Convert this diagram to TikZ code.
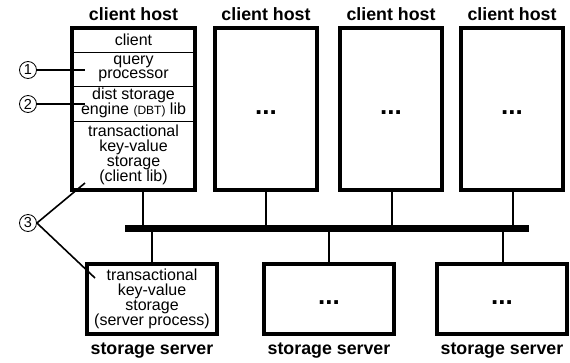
\documentclass[tikz,border=0pt]{standalone}
\usepackage{fontspec}
\setmainfont{Liberation Sans}
\begin{document}
\begin{tikzpicture}[x=1pt,y=-1pt,
  host/.style={draw,line width=3.5pt,minimum width=102pt,minimum height=162pt,inner sep=0pt},
  server/.style={draw,line width=3.5pt,minimum width=130pt,minimum height=70pt,inner sep=0pt},
  title/.style={font=\bfseries\fontsize{17.8}{20}\selectfont,inner sep=0pt},
  dots/.style={font=\bfseries\fontsize{26}{26}\selectfont,inner sep=0pt},
  layer/.style={font=\fontsize{16}{15}\selectfont,align=center,inner sep=0pt},
  num/.style={draw,circle,line width=0.8pt,minimum size=17pt,inner sep=0pt,font=\fontsize{14.5}{14.5}\selectfont},
  divider/.style={line width=0.8pt},
  link/.style={line width=1.5pt},
  bus/.style={line width=7pt},
  pointer/.style={line width=1.6pt}]
\useasboundingbox[fill=white] (0,0) rectangle (570,362);

% client hosts
\node[host,minimum width=123pt] (h1) at (133.5,109) {};
\node[host] (h2) at (266,109) {};
\node[host] (h3) at (391,109) {};
\node[host] (h4) at (512,109) {};
\foreach \n/\x in {h1/133.5,h2/266,h3/391,h4/512}
  \node[title] (t\n) at (\x,14) {client host};
\foreach \n in {h2,h3,h4}
  \node[dots] (d\n) at ([yshift=-4pt]\n.center) {...};

% layers of the first client host
\draw[divider] (h1.west |- 0,52) -- (h1.east |- 0,52);
\draw[divider] (h1.west |- 0,86) -- (h1.east |- 0,86);
\draw[divider] (h1.west |- 0,121) -- (h1.east |- 0,121);
\node[layer] (lclient) at (133.5,40) {client};
\node[layer,font=\fontsize{16}{14}\selectfont] (lqp) at (133.5,68.5) {query\\processor};
\node[layer] (ldbt) at (133.5,103) {dist storage\\engine {\fontsize{12}{12}\selectfont(DBT)} lib};
\node[layer] (lkv) at (133.5,155) {transactional\\key-value\\storage\\(client lib)};

% storage servers
\node[server] (s1) at (152,299) {};
\node[server] (s2) at (329,299) {};
\node[server] (s3) at (502,299) {};
\node[layer] (skv) at (152,299) {transactional\\key-value\\storage\\(server process)};
\foreach \n in {s2,s3}
  \node[dots] (d\n) at ([yshift=-4pt]\n.center) {...};
\foreach \n in {s1,s2,s3}
  \node[title] (t\n) at (\n.south |- 0,351) {storage server};

% network bus
\coordinate (busL) at (125,228);
\coordinate (busR) at (529,228);
\draw[bus] (busL) -- (busR);
\foreach \n/\x in {h1/143,h2/266,h3/392,h4/513} {
  \coordinate (b\n) at (\x,228);
  \draw[link] (b\n) -- (b\n |- \n.south);
}
\foreach \n/\x in {s1/152,s2/329,s3/503} {
  \coordinate (b\n) at (\x,228);
  \draw[link] (b\n) -- (b\n |- \n.north);
}

% numbered callouts
\node[num] (n1) at (28,70) {1};
\node[num] (n2) at (28,104) {2};
\node[num] (n3) at (28,223) {3};
\coordinate (p1) at (85,70);
\coordinate (p2) at (85,104);
\coordinate (p3a) at (85,183);
\coordinate (p3b) at (95,278);
\draw[pointer] (n1.east) -- (p1);
\draw[pointer] (n2.east) -- (p2);
\draw[pointer] (n3.east) -- (p3a);
\draw[pointer] (n3.east) -- (p3b);
\end{tikzpicture}
\end{document}
